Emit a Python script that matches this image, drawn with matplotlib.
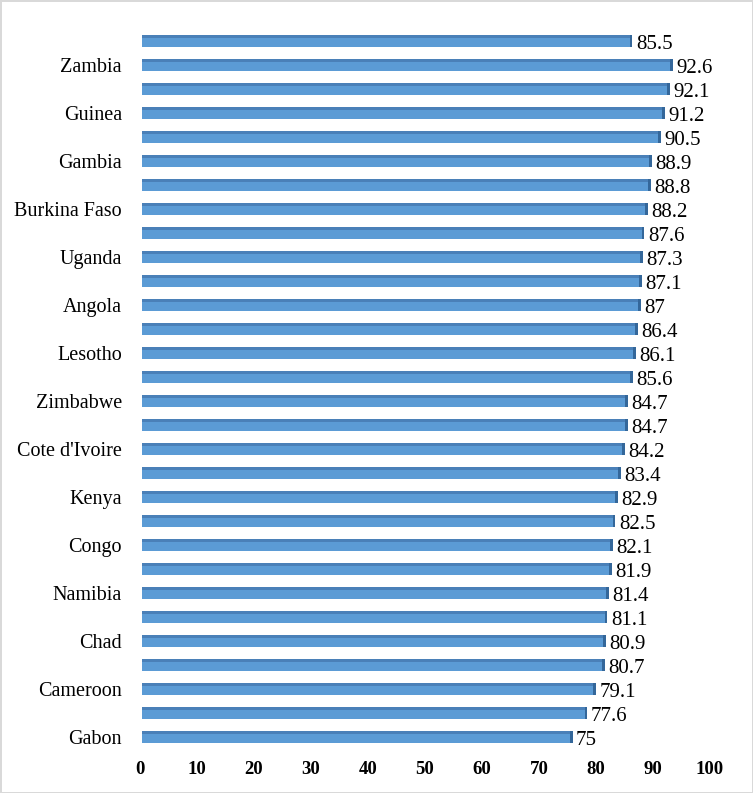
import numpy as np
import matplotlib.pyplot as plt

# data, top to bottom as in the picture
labels = ['', 'Zambia', '', 'Guinea', '', 'Gambia', '', 'Burkina Faso', '', 'Uganda',
          '', 'Angola', '', 'Lesotho', '', 'Zimbabwe', '', "Cote d'Ivoire", '', 'Kenya',
          '', 'Congo', '', 'Namibia', '', 'Chad', '', 'Cameroon', '', 'Gabon']
values = [85.5, 92.6, 92.1, 91.2, 90.5, 88.9, 88.8, 88.2, 87.6, 87.3,
          87.1, 87, 86.4, 86.1, 85.6, 84.7, 84.7, 84.2, 83.4, 82.9,
          82.5, 82.1, 81.9, 81.4, 81.1, 80.9, 80.7, 79.1, 77.6, 75]
value_text = ['85.5', '92.6', '92.1', '91.2', '90.5', '88.9', '88.8', '88.2', '87.6', '87.3',
              '87.1', '87', '86.4', '86.1', '85.6', '84.7', '84.7', '84.2', '83.4', '82.9',
              '82.5', '82.1', '81.9', '81.4', '81.1', '80.9', '80.7', '79.1', '77.6', '75']
xticks = [0, 10, 20, 30, 40, 50, 60, 70, 80, 90, 100]

plt.rcParams['font.family'] = ['Liberation Serif', 'DejaVu Serif']

fig = plt.figure(figsize=(7.53, 7.93), dpi=100)
fig.patch.set_edgecolor('#d9d9d9')
fig.patch.set_linewidth(2)
ax = fig.add_axes([140 / 753, 1 - 749 / 793, 570 / 753, 720 / 793])

y = np.arange(len(values))
vals = np.array(values)
h = 0.5

# main body
ax.barh(y, vals, height=h, color='#5b9bd5', left=0.4)
# darker top face
ax.barh(y - h / 2 + 0.06, vals, height=0.12, color='#4a80b8', left=0.4)
# dark end cap
ax.barh(y, 0.5, height=h, left=vals + 0.4, color='#34679a')

for yi, v, t in zip(y, vals, value_text):
    ax.text(v + 1.5, yi + 0.14, t, va='center', ha='left', fontsize=15)

ax.set_yticks(y)
ax.set_yticklabels(labels, fontsize=14.5)
ax.set_ylim(len(values) - 0.5, -0.5)
ax.set_xlim(0, 100)
ax.set_xticks(xticks)
ax.set_xticklabels([str(t) for t in xticks], fontsize=13.5, fontweight='bold')
ax.tick_params(axis='both', length=0)
ax.tick_params(axis='y', pad=13)
ax.tick_params(axis='x', pad=9)
for s in ax.spines.values():
    s.set_visible(False)

fig.savefig('out.png', dpi=100)
